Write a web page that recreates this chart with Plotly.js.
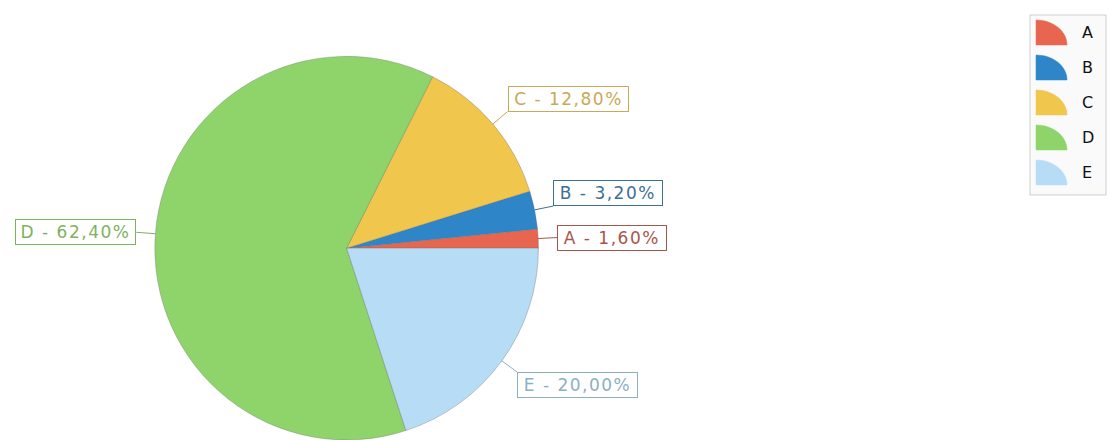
<!DOCTYPE html>
<html>
<head>
<meta charset="utf-8">
<script src="https://cdn.plot.ly/plotly-3.0.1.min.js"></script>
<style>
  html, body { margin: 0; padding: 0; background: #ffffff; }
  #chart { width: 1110px; height: 440px; }
  g.annotation.pielabel text.annotation-text { letter-spacing: 1.5px; }
</style>
</head>
<body>
<div id="chart"></div>
<script>
// ---- data ----
const categories = ["A", "B", "C", "D", "E"];
const values = [1.6, 3.2, 12.8, 62.4, 20.0];
const sliceColors = ["#E8664F", "#2E86C9", "#F1C64C", "#8ED46A", "#B6DCF6"];
const labelColors = ["#A9564A", "#3C6F95", "#C6AA58", "#7EB25F", "#8CAFC6"];

// ---- geometry ----
const W = 1110, H = 440;
const domX = [0.1395, 0.4851];
const domY = [0.0, 0.872];
const cx = (domX[0] + domX[1]) / 2 * W;
const cy = H - (domY[0] + domY[1]) / 2 * H;
const R = Math.min((domX[1] - domX[0]) * W, (domY[1] - domY[0]) * H) / 2;

const px = x => x / W;
const py = y => 1 - y / H;

const total = values.reduce((a, b) => a + b, 0);
const shapes = [];
const annotations = [];
let cum = 0;
values.forEach((v, i) => {
  const mid = (cum + v / 2) / total * 2 * Math.PI;
  cum += v;
  const c = Math.cos(mid), s = Math.sin(mid);
  const x0 = cx + R * c, y0 = cy - R * s;
  const x1 = cx + R * 1.1 * c, y1 = cy - R * 1.1 * s;
  shapes.push({
    type: "line", xref: "paper", yref: "paper",
    x0: px(x0), y0: py(y0), x1: px(x1), y1: py(y1),
    line: { color: labelColors[i], width: 1 }
  });
  const pct = (v / total * 100).toFixed(2).replace(".", ",");
  const txt = categories[i] + " - " + pct + "%";
  annotations.push({
    xref: "paper", yref: "paper", x: px(x1), y: py(y1),
    xanchor: c >= 0 ? "left" : "right",
    yanchor: Math.abs(s) < 0.1 ? "middle" : (s > 0 ? "bottom" : "top"),
    text: txt,
    showarrow: false,
    width: txt.length * 11.3,
    height: 18,
    align: "center",
    valign: "middle",
    font: { family: "DejaVu Sans", size: 17, color: labelColors[i] },
    bgcolor: "#ffffff",
    bordercolor: labelColors[i], borderwidth: 1, borderpad: 3
  });
});

// ---- custom legend (quarter-circle icons) ----
const legX = 1030, legY = 15, legW = 76, legH = 180;
shapes.push({
  type: "rect", xref: "paper", yref: "paper",
  x0: px(legX), y0: py(legY), x1: px(legX + legW), y1: py(legY + legH),
  line: { color: "#cfcfcf", width: 1 }, fillcolor: "#fafafa", layer: "below"
});
categories.forEach((cat, i) => {
  const ix = 1036, iy = 45 + i * 35, iw = 31, ih = 25;
  const k = 0.5523;
  const path = "M " + px(ix) + " " + py(iy) +
    " L " + px(ix) + " " + py(iy - ih) +
    " C " + px(ix + k * iw) + " " + py(iy - ih) + " " +
    px(ix + iw) + " " + py(iy - k * ih) + " " +
    px(ix + iw) + " " + py(iy) + " Z";
  shapes.push({
    type: "path", xref: "paper", yref: "paper", path: path,
    fillcolor: sliceColors[i], line: { color: sliceColors[i], width: 0.5 }
  });
  annotations.push({
    xref: "paper", yref: "paper", x: px(1080), y: py(iy - ih / 2),
    xanchor: "left", yanchor: "middle", showarrow: false,
    text: cat, font: { family: "DejaVu Sans", size: 16, color: "#111111" }
  });
});

const trace = {
  type: "pie",
  labels: categories,
  values: values,
  sort: false,
  direction: "counterclockwise",
  // first slice begins at 3 o'clock and runs counterclockwise
  rotation: 90 - 360 * values[0] / total,
  textinfo: "none",
  hoverinfo: "label+percent",
  marker: { colors: sliceColors, line: { color: "rgba(110,110,110,0.35)", width: 1 } },
  domain: { x: domX, y: domY }
};

const layout = {
  width: W, height: H,
  margin: { l: 0, r: 0, t: 0, b: 0 },
  paper_bgcolor: "#ffffff",
  showlegend: false,
  shapes: shapes,
  annotations: annotations
};

Plotly.newPlot("chart", [trace], layout, { displayModeBar: false, staticPlot: true }).then(() => {
  // tag the slice-label annotations so the letter-spacing rule applies to them only
  document.querySelectorAll("g.annotation").forEach((g, idx) => {
    if (idx < categories.length) g.classList.add("pielabel");
  });
});
</script>
</body>
</html>
